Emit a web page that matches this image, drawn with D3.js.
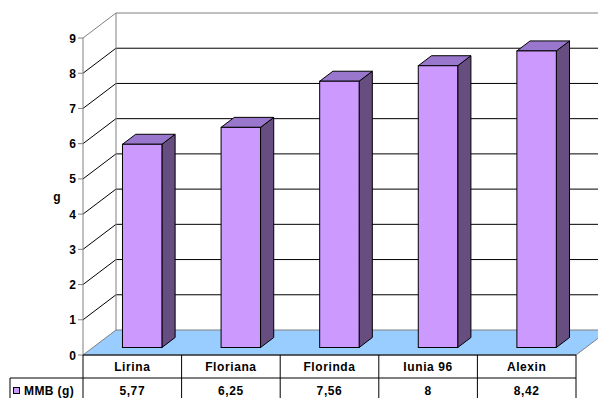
<!DOCTYPE html>
<html>
<head>
<meta charset="utf-8">
<script src="https://cdn.jsdelivr.net/npm/d3@7"></script>
<style>
  body { margin: 0; background: #fff; }
  svg text { font-family: "Liberation Sans", Arial, sans-serif; font-weight: bold; font-size: 12px; fill: #000; }
</style>
</head>
<body>
<div id="grafico"></div>
<script>
const categories = ["Lirina", "Floriana", "Florinda", "Iunia 96", "Alexin"];
const values = [5.77, 6.25, 7.56, 8, 8.42];
const valueLabels = ["5,77", "6,25", "7,56", "8", "8,42"];
const seriesName = "MMB (g)";
const yTicks = [0, 1, 2, 3, 4, 5, 6, 7, 8, 9];

const width = 598, height = 398;
const plotLeft = 83, plotRight = 576, plotBottom = 355, plotTop = 38;
const depthX = 33, depthY = -25;   // fondo 3D
const d0 = 0.3, d1 = 0.7;          // profundidad de las barras

const svg = d3.select('#grafico').append('svg')
  .attr('width', width).attr('height', height);

const x = d3.scaleBand().domain(categories).range([plotLeft, plotRight])
  .paddingInner(0.6).paddingOuter(0.3);
const col = d3.scaleBand().domain(categories).range([plotLeft, plotRight]);
const y = d3.scaleLinear().domain([0, 9]).range([plotBottom, plotTop]);

const pts = p => p.map(d => d.join(',')).join(' ');

// pared izquierda y fondo: lineas de grilla
yTicks.filter(t => t > 0).forEach(t => {
  const yy = y(t);
  svg.append('line')
    .attr('x1', plotLeft).attr('y1', yy)
    .attr('x2', plotLeft + depthX).attr('y2', yy + depthY)
    .attr('stroke', t === 9 ? '#808080' : '#000').attr('stroke-width', 1);
  svg.append('line')
    .attr('x1', plotLeft + depthX).attr('y1', yy + depthY)
    .attr('x2', plotRight + depthX).attr('y2', yy + depthY)
    .attr('stroke', t === 9 ? '#808080' : '#000').attr('stroke-width', 1);
});
svg.append('line')
  .attr('x1', plotLeft + depthX).attr('y1', y(9) + depthY)
  .attr('x2', plotLeft + depthX).attr('y2', y(0) + depthY)
  .attr('stroke', '#808080');

// piso
svg.append('polygon')
  .attr('points', pts([[plotLeft, y(0)], [plotRight, y(0)], [plotRight + depthX, y(0) + depthY], [plotLeft + depthX, y(0) + depthY]]))
  .attr('fill', '#99ccff').attr('stroke', '#808080');

// eje Y
svg.append('line')
  .attr('x1', plotLeft).attr('y1', y(9)).attr('x2', plotLeft).attr('y2', y(0))
  .attr('stroke', '#808080');
svg.selectAll('.tick').data(yTicks).enter().append('line')
  .attr('x1', plotLeft - 5).attr('x2', plotLeft)
  .attr('y1', d => y(d)).attr('y2', d => y(d))
  .attr('stroke', '#808080');
svg.selectAll('.ticklabel').data(yTicks).enter().append('text')
  .attr('x', 76).attr('y', d => y(d) + 4.5)
  .attr('text-anchor', 'end')
  .text(d => d);
svg.append('text').attr('x', 57).attr('y', 201)
  .attr('text-anchor', 'middle').text('g');

// barras 3D
const bar = svg.selectAll('.bar').data(categories).enter().append('g');
bar.each(function (c, i) {
  const g = d3.select(this);
  const fx0 = x(c) + depthX * d0, fx1 = x(c) + x.bandwidth() + depthX * d0;
  const fyT = y(values[i]) + depthY * d0, fyB = y(0) + depthY * d0;
  const dx = depthX * (d1 - d0), dy = depthY * (d1 - d0);
  g.append('polygon')
    .attr('points', pts([[fx1, fyT], [fx1 + dx, fyT + dy], [fx1 + dx, fyB + dy], [fx1, fyB]]))
    .attr('fill', '#664e80').attr('stroke', '#000').attr('stroke-width', 1);
  g.append('polygon')
    .attr('points', pts([[fx0, fyT], [fx0 + dx, fyT + dy], [fx1 + dx, fyT + dy], [fx1, fyT]]))
    .attr('fill', '#9977cc').attr('stroke', '#000').attr('stroke-width', 1);
  g.append('rect')
    .attr('x', fx0).attr('y', fyT)
    .attr('width', fx1 - fx0).attr('height', fyB - fyT)
    .attr('fill', '#cc99ff').attr('stroke', '#000').attr('stroke-width', 1);
});

// tabla de datos
const row1 = 378, rowEnd = 402;
svg.append('line').attr('x1', plotLeft).attr('x2', plotRight).attr('y1', y(0)).attr('y2', y(0)).attr('stroke', '#000');
svg.append('line').attr('x1', 10).attr('x2', plotRight).attr('y1', row1).attr('y2', row1).attr('stroke', '#000');
svg.append('line').attr('x1', 10).attr('x2', 10).attr('y1', row1).attr('y2', rowEnd).attr('stroke', '#000');
svg.append('line').attr('x1', plotLeft).attr('x2', plotLeft).attr('y1', y(0)).attr('y2', rowEnd).attr('stroke', '#000');
categories.forEach(c => {
  const xr = col(c) + col.bandwidth();
  svg.append('line').attr('x1', xr).attr('x2', xr).attr('y1', y(0)).attr('y2', rowEnd).attr('stroke', '#000');
});
svg.selectAll('.cat').data(categories).enter().append('text')
  .attr('x', d => col(d) + col.bandwidth() / 2).attr('y', 371)
  .attr('text-anchor', 'middle').attr('letter-spacing', '0.6px')
  .text(d => d);
svg.selectAll('.val').data(valueLabels).enter().append('text')
  .attr('x', (d, i) => col(categories[i]) + col.bandwidth() / 2).attr('y', 395)
  .attr('text-anchor', 'middle').attr('letter-spacing', '0.6px')
  .text(d => d);
svg.append('rect').attr('x', 13.5).attr('y', 387.5).attr('width', 6).attr('height', 6)
  .attr('fill', '#cc99ff').attr('stroke', '#000');
svg.append('text').attr('x', 24).attr('y', 395).attr('letter-spacing', '0.4px').text(seriesName);
</script>
</body>
</html>
